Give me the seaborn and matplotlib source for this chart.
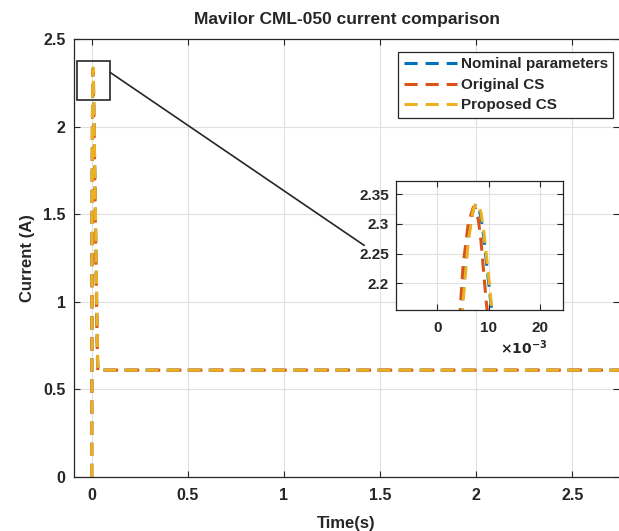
import numpy as np
import pandas as pd
import seaborn as sns
import matplotlib.pyplot as plt
from matplotlib.patches import Rectangle
from matplotlib.ticker import FuncFormatter

# sample times (ms) and currents (A)
t_ms = [0, 1, 2, 3, 4, 5, 6, 7, 7.5, 8, 8.5, 9, 9.5, 10, 10.5, 11,
        15, 20, 25, 30, 32, 35, 40, 60, 2800]
nominal = [0, 0.75, 1.35, 1.78, 2.05, 2.19, 2.28, 2.325, 2.333, 2.328, 2.31, 2.28,
           2.24, 2.2, 2.16, 2.12, 1.82, 1.45, 1.07, 0.7, 0.62, 0.605, 0.61, 0.61, 0.61]
original = [0, 0.78, 1.4, 1.83, 2.1, 2.23, 2.3, 2.328, 2.325, 2.305, 2.27, 2.22,
            2.17, 2.13, 2.09, 2.05, 1.75, 1.37, 1.0, 0.66, 0.61, 0.605, 0.61, 0.61, 0.61]
proposed = [0, 0.74, 1.33, 1.76, 2.03, 2.17, 2.27, 2.325, 2.334, 2.332, 2.318, 2.29,
            2.25, 2.21, 2.165, 2.13, 1.84, 1.47, 1.09, 0.72, 0.63, 0.606, 0.61, 0.61, 0.61]

series = ['Nominal parameters', 'Original CS', 'Proposed CS']
colors = ['#0072BD', '#D95319', '#EDB120']

t = np.array(t_ms) / 1000.0
df = pd.DataFrame({'t': np.tile(t, 3),
                   'I': nominal + original + proposed,
                   'series': np.repeat(series, len(t))})

sns.set_style('ticks')
plt.rcParams['font.family'] = ['Liberation Sans', 'DejaVu Sans']
plt.rcParams['font.weight'] = 'bold'
plt.rcParams['axes.labelweight'] = 'bold'
plt.rcParams['axes.titleweight'] = 'bold'

fig = plt.figure(figsize=(6.19, 5.31), dpi=100)
ax = fig.add_axes([74/619, 54/531, 545/619, 438/531])


def draw(a, legend):
    for name, c in zip(series, colors):
        sub = df[df.series == name]
        sns.lineplot(data=sub, x='t', y='I', ax=a, color=c, lw=2.2,
                     label=name if legend else None, sort=False)
    for ln in a.get_lines():
        ln.set_dashes((4.3, 2.6))


def style(a, size):
    a.grid(True, color='#e0e0e0', lw=0.8)
    a.tick_params(direction='in', length=4, width=0.8, colors='#262626',
                  labelsize=size, top=True, right=True)
    for s in a.spines.values():
        s.set_color('#262626')
        s.set_linewidth(0.9)
    for lb in a.get_xticklabels() + a.get_yticklabels():
        lb.set_fontweight('bold')


draw(ax, True)
ax.set_xlim(-0.092, 2.742)
ax.set_ylim(0, 2.5)
ax.set_xticks([0, 0.5, 1, 1.5, 2, 2.5])
ax.set_xticklabels(['0', '0.5', '1', '1.5', '2', '2.5'])
ax.set_yticks([0, 0.5, 1, 1.5, 2, 2.5])
ax.set_yticklabels(['0', '0.5', '1', '1.5', '2', '2.5'])
style(ax, 11.5)
ax.tick_params(axis='x', pad=8)
ax.tick_params(axis='y', pad=6)
ax.spines['right'].set_visible(False)
ax.set_xlabel('Time(s)', fontsize=12, labelpad=9)
ax.set_ylabel('Current (A)', fontsize=12, labelpad=6)
ax.set_title('Mavilor CML-050 current comparison', fontsize=12.5, pad=11)

leg = ax.legend(loc='upper right', bbox_to_anchor=(0.9895, 0.97), frameon=True,
                fancybox=False, edgecolor='#262626', framealpha=1,
                prop={'weight': 'bold', 'size': 11}, handlelength=3.5,
                handletextpad=0.25, borderpad=0.35, labelspacing=0.42, borderaxespad=0)
leg.get_frame().set_linewidth(0.9)

# zoom box and connector
box_x, box_y, box_w, box_h = -0.075, 2.152, 0.17, 0.224
ax.add_patch(Rectangle((box_x, box_y), box_w, box_h, fill=False,
                       ec='#262626', lw=1.2, zorder=5))
ax.plot([box_x + box_w, 1.417], [2.31, 1.322], color='#262626', lw=1.2, zorder=5)

# inset
axi = fig.add_axes([396/619, 221/531, 167/619, 129/531])
axi.set_facecolor('white')
draw(axi, False)
axi.set_xlim(-0.0081, 0.0245)
axi.set_ylim(2.155, 2.372)
axi.set_xticks([0, 0.01, 0.02])
axi.xaxis.set_major_formatter(FuncFormatter(lambda v, p: f'{v*1000:.0f}'))
axi.set_yticks([2.2, 2.25, 2.3, 2.35])
axi.set_yticklabels(['2.2', '2.25', '2.3', '2.35'])
axi.set_xlabel('')
axi.set_ylabel('')
style(axi, 11)
axi.tick_params(axis='x', pad=8)
axi.tick_params(axis='y', pad=5)
axi.text(0.62, -0.29, r'$\times\mathbf{10^{-3}}$', transform=axi.transAxes,
         fontsize=10, color='#262626', va='center')

fig.savefig('out.png', dpi=100)
